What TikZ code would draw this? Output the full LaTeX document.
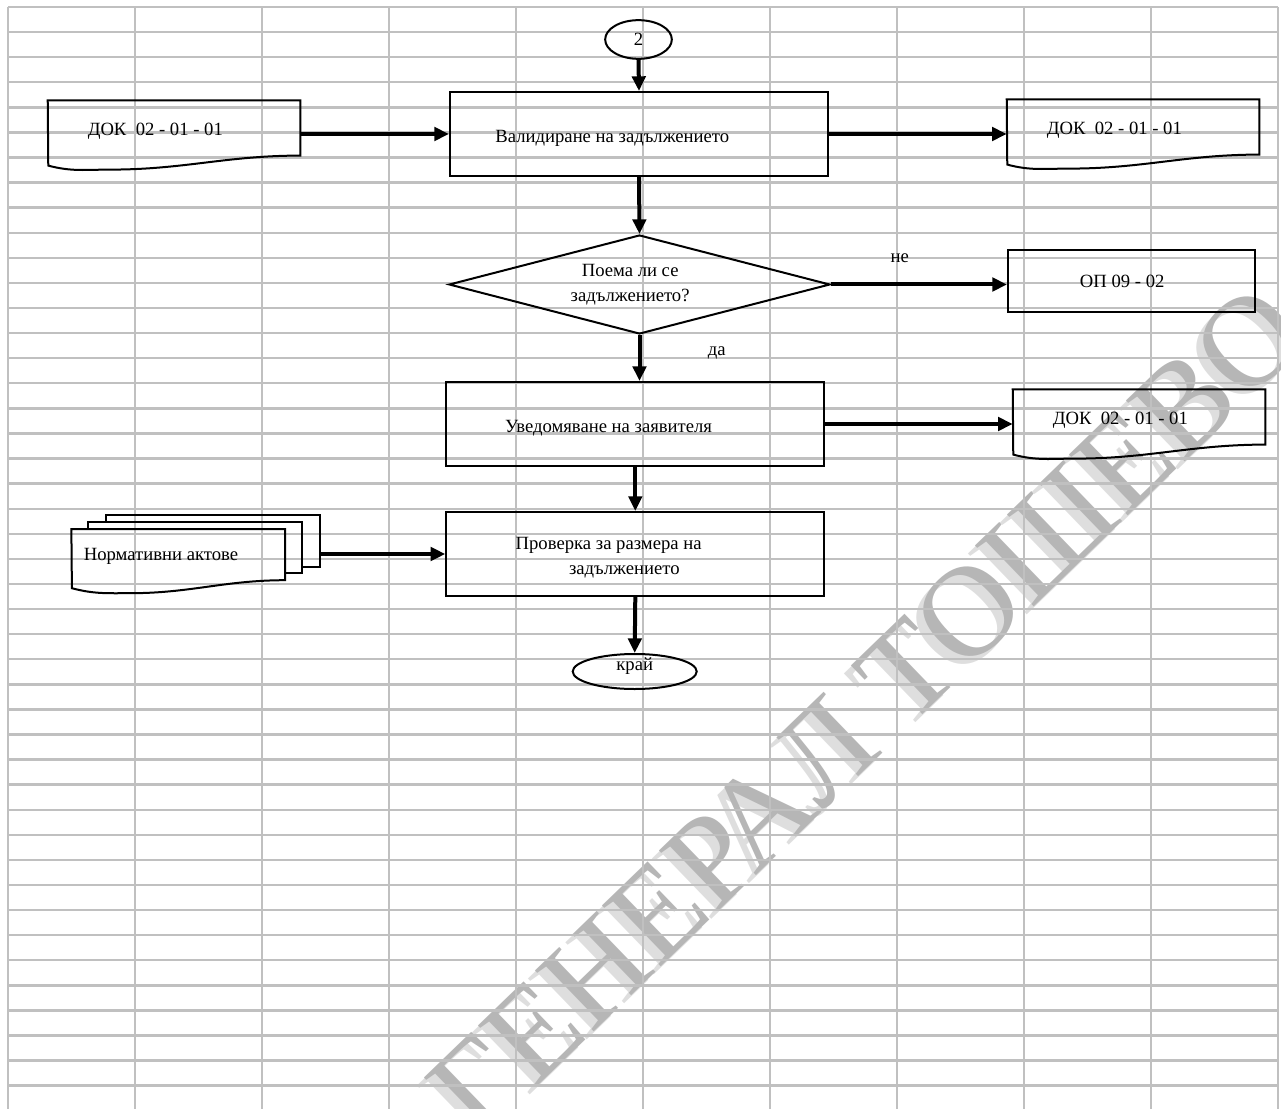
\documentclass[tikz,border=0pt]{standalone}
\usepackage{fontspec}
\setmainfont{Liberation Serif}
\usetikzlibrary{shapes.geometric,arrows.meta}
\definecolor{gridgray}{RGB}{192,192,192}
\definecolor{markdark}{RGB}{182,182,182}
\definecolor{marklight}{RGB}{222,222,222}
\begin{document}
\begin{tikzpicture}
    [
    x = 0.75pt, y = -0.75pt,
    every node/.style = {font = \fontsize{14}{18.5}\selectfont},
    ]
    \tikzstyle{grid line}=[gridgray, line width=1.8pt]
    \tikzstyle{shape line}=[line width=1.5pt]
    \tikzstyle{flow arrow}=[line width=3pt, -{Triangle[length=11pt,width=10pt]}]
    \tikzstyle{process node}=[rectangle, draw, shape line, minimum width=283.5pt, minimum height=63pt]
    \tikzstyle{decision node}=[diamond, draw, shape line, aspect=3.85, inner sep=0pt, minimum width=285.75pt, minimum height=74.25pt, align=center]
    \tikzstyle{term node}=[ellipse, draw, shape line, inner sep=0pt]
    \tikzstyle{doc node}=[rectangle, inner sep=0pt, minimum width=189pt, minimum height=41pt]
    \tikzstyle{box text}=[xshift=-20pt, yshift=-3pt, align=left]
    \tikzstyle{doc text}=[xshift=-14pt, yshift=-2.5pt]
    \tikzstyle{mark text}=[rotate=44, inner sep=0pt, font=\fontsize{97}{97}\selectfont]

    \useasboundingbox (0,0) rectangle (1281,1109);

    \node[mark text, marklight] (markshade) at (860,718) {ГЕНЕРАЛ ТОШЕВО};
    \node[mark text, markdark] (mark) at (867,710) {ГЕНЕРАЛ ТОШЕВО};

    \foreach \i in {0,...,10}
        \draw[grid line] (8+127*\i,7) -- (8+127*\i,1109);
    \foreach \j in {0,...,43}
        \draw[grid line] (8,7+25.085*\j) -- (1278,7+25.085*\j);

    \node[term node, minimum width=50pt, minimum height=29pt] (start) at (638.5,39.5) {2};
    \node[process node, label={[box text, name=validtext]center:Валидиране на задължението}] (valid) at (639,134) {};
    \node[doc node, label={[doc text, name=docintext]center:ДОК\ \ 02 - 01 - 01}] (docin) at (174,128) {};
    \node[doc node, label={[doc text, name=docouttext]center:ДОК\ \ 02 - 01 - 01}] (docout) at (1133,127) {};
    \node[decision node] (decide) at (639.5,284.5) {\hspace*{-14pt}Поема ли се\\\hspace*{-14pt}задължението?};
    \node[process node, minimum width=185.25pt, minimum height=45.75pt] (opref) at (1131.5,281) {\hspace*{-14pt}ОП 09 - 02};
    \node[process node, label={[box text, name=notifytext]center:Уведомяване на заявителя}] (notify) at (635.3,424) {};
    \node[doc node, label={[doc text, name=docreplytext]center:ДОК\ \ 02 - 01 - 01}] (docreply) at (1139,417) {};
    \node[process node, label={[box text, name=checktext]center:Проверка за размера на\\\hspace*{40pt}задължението}] (check) at (635.3,554) {};
    \node[term node, minimum width=93pt, minimum height=26.25pt, label={[yshift=4pt, name=finishtext]center:край}] (finish) at (634.7,671.5) {};
    \node[doc node, minimum width=160pt, minimum height=38pt, label={[xshift=-13pt, yshift=-1.5pt, name=actstext]center:Нормативни актове}] (acts) at (178.3,554.6) {};
    \node[doc node, minimum width=160pt, minimum height=38pt, xshift=12.75pt, yshift=5.25pt] (acts2) at (acts) {};
    \node[doc node, minimum width=160pt, minimum height=38pt, xshift=26.25pt, yshift=10.2pt] (acts3) at (acts) {};

    \foreach \d in {docin,docout,docreply}
        \draw[shape line] (\d.north west) -- (\d.north east) -- (\d.south east)
            to[out=180, in=0] ++(-190,14) to[out=180, in=-15] ++(-62,-4) -- cycle;
    \draw[shape line] (acts.north west) -- (acts.north east) -- (acts.south east)
        to[out=180, in=0] ++(-155,13) to[out=180, in=-15] ++(-58.33,-5) -- cycle;
    \draw[shape line] (acts2.west |- acts.north) -- (acts2.north west) -- (acts2.north east) -- (acts2.south east) -- (acts.east |- acts2.south);
    \draw[shape line] (acts3.west |- acts2.north) -- (acts3.north west) -- (acts3.north east) -- (acts3.south east) -- (acts2.east |- acts3.south);

    \draw[flow arrow] (start.south) -- (valid.north);
    \draw[flow arrow] (docin.east |- valid.west) -- (valid.west);
    \draw[flow arrow] (valid.east) -- (docout.west |- valid.east);
    \draw[flow arrow] (valid.south) -- (decide.north);
    \draw[flow arrow] (decide.east) -- node[pos=0.39, yshift=20pt] (nolabel) {не} (opref.west |- decide.east);
    \draw[flow arrow] (decide.south) -- node[pos=0.39, xshift=58pt] (yeslabel) {да} (decide.south |- notify.north);
    \draw[flow arrow] (notify.east) -- (docreply.west |- notify.east);
    \draw[flow arrow] (notify.south) -- (check.north);
    \draw[flow arrow] (acts3.east |- check.west) -- (check.west);
    \draw[flow arrow] (check.south) -- (finish.north);
\end{tikzpicture}
\end{document}
